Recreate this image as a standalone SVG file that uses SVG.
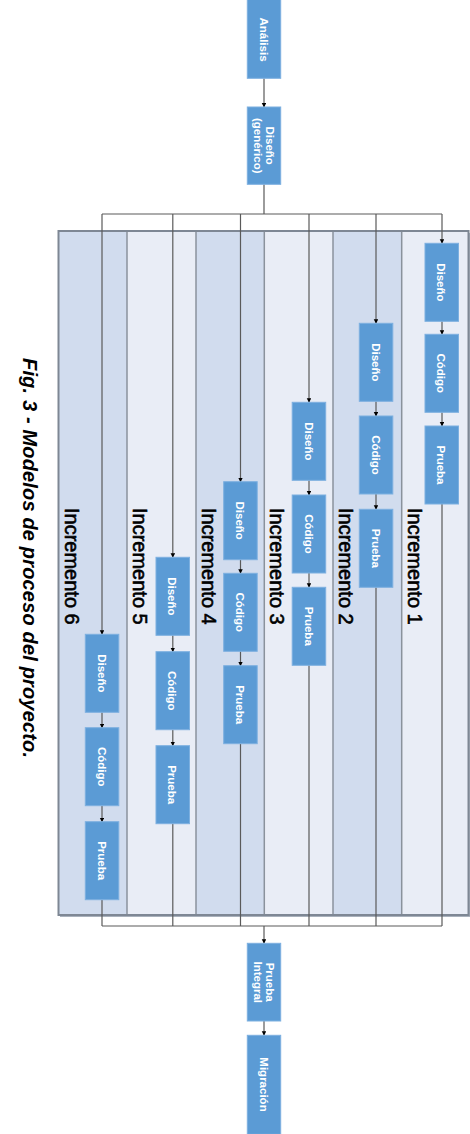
<svg xmlns="http://www.w3.org/2000/svg" width="470" height="1134" viewBox="0 0 470 1134">
<defs>
<style>
.box{fill:#5B9BD5;stroke:#7DB0E0;stroke-width:1}
.bt{font-family:"Liberation Sans",Arial,sans-serif;font-weight:bold;font-size:11.5px;fill:#FFFFFF;text-anchor:middle}
.lab{font-family:"Liberation Sans",Arial,sans-serif;font-size:20px;fill:#000000;stroke:#000000;stroke-width:0.6}
.cap{font-family:"Liberation Sans",Arial,sans-serif;font-size:20px;font-weight:bold;font-style:italic;fill:#000000}
.dark{fill:#D1DCEE}
.light{fill:#E9EDF6}
.div{stroke:#8A929C;stroke-width:1.5;fill:none}
.con{stroke:#5A5A5A;stroke-width:1.2;fill:none}
.arr{stroke:#5A5A5A;stroke-width:1.2;fill:none;marker-end:url(#ah)}
</style>
<marker id="ah" markerUnits="userSpaceOnUse" markerWidth="5" markerHeight="5" refX="4" refY="2.25" orient="auto">
<path d="M0,0 L4.5,2.25 L0,4.5 z" fill="#000000"/>
</marker>
</defs>
<rect width="470" height="1134" fill="#FFFFFF"/>

<g id="caption">
<text class="cap" transform="translate(23,358) rotate(90)" textLength="400" lengthAdjust="spacing">Fig. 3 - Modelos de proceso del proyecto.</text>
</g>

<g id="lanes">
<rect x="60" y="233" width="410" height="684" fill="#A9B1BC"/>
<rect class="dark" x="58.5" y="231" width="68.5" height="684"/>
<rect class="light" x="127" y="231" width="69" height="684"/>
<rect class="dark" x="196" y="231" width="68.3" height="684"/>
<rect class="light" x="264.3" y="231" width="68.7" height="684"/>
<rect class="dark" x="333" y="231" width="68.7" height="684"/>
<rect class="light" x="401.7" y="231" width="67" height="684"/>
<line class="div" x1="127" y1="231" x2="127" y2="915"/>
<line class="div" x1="196" y1="231" x2="196" y2="915"/>
<line class="div" x1="264.3" y1="231" x2="264.3" y2="915"/>
<line class="div" x1="333" y1="231" x2="333" y2="915"/>
<line class="div" x1="401.7" y1="231" x2="401.7" y2="915"/>
<rect x="58.5" y="231" width="410" height="684" fill="none" stroke="#7E8794" stroke-width="2"/>
</g>

<g id="labels">
<text class="lab" transform="translate(407.7,508) rotate(90)">Incremento 1</text>
<text class="lab" transform="translate(339.3,508) rotate(90)">Incremento 2</text>
<text class="lab" transform="translate(270,508) rotate(90)">Incremento 3</text>
<text class="lab" transform="translate(201.7,508) rotate(90)">Incremento 4</text>
<text class="lab" transform="translate(133,508) rotate(90)">Incremento 5</text>
<text class="lab" transform="translate(65,508) rotate(90)">Incremento 6</text>
</g>

<g id="connectors">
<line class="arr" x1="264" y1="78.3" x2="264" y2="107"/>
<path class="con" d="M264,184.3 V214 M102,214 H442"/>
<line class="arr" x1="442" y1="214" x2="442" y2="243.3"/>
<line class="arr" x1="376" y1="214" x2="376" y2="323.3"/>
<line class="arr" x1="309" y1="214" x2="309" y2="402.3"/>
<line class="arr" x1="240.5" y1="214" x2="240.5" y2="481.7"/>
<line class="arr" x1="172.8" y1="214" x2="172.8" y2="557.3"/>
<line class="arr" x1="102" y1="214" x2="102" y2="634.3"/>

<line class="arr" x1="442" y1="321.3" x2="442" y2="334.3"/>
<line class="arr" x1="442" y1="412.3" x2="442" y2="426"/>
<line class="arr" x1="376" y1="401.3" x2="376" y2="416"/>
<line class="arr" x1="376" y1="494" x2="376" y2="509.3"/>
<line class="arr" x1="309" y1="480.3" x2="309" y2="495"/>
<line class="arr" x1="309" y1="573" x2="309" y2="587.3"/>
<line class="arr" x1="240.5" y1="559.7" x2="240.5" y2="573.3"/>
<line class="arr" x1="240.5" y1="651.3" x2="240.5" y2="665.7"/>
<line class="arr" x1="172.8" y1="635.3" x2="172.8" y2="651.7"/>
<line class="arr" x1="172.8" y1="729.7" x2="172.8" y2="745.7"/>
<line class="arr" x1="102" y1="712.3" x2="102" y2="727.7"/>
<line class="arr" x1="102" y1="805.7" x2="102" y2="821.7"/>

<path class="con" d="M442,504 V926 M376,587.3 V926 M309,665.3 V926 M240.5,743.7 V926 M172.8,823.7 V926 M102,899.7 V926 M102,926 H442"/>
<line class="arr" x1="264" y1="926" x2="264" y2="943.3"/>
<line class="arr" x1="264" y1="1021" x2="264" y2="1035.3"/>
</g>

<g id="n-analisis">
<rect class="box" x="247.3" y="-1" width="33.4" height="79.3"/>
<text class="bt" transform="translate(264,39.5) rotate(90)" y="4.3">Análisis</text>
</g>
<g id="n-diseno-generico">
<rect class="box" x="247.3" y="107" width="33.4" height="77.3"/>
<text class="bt" transform="translate(264,145.7) rotate(90)"><tspan x="0" y="-1.8">Diseño</tspan><tspan x="0" y="10.2">(genérico)</tspan></text>
</g>

<g id="n-i1-diseno"><rect class="box" x="425" y="243.3" width="33.5" height="78"/><text class="bt" transform="translate(441.75,282.3) rotate(90)" y="4.3">Diseño</text></g>
<g id="n-i1-codigo"><rect class="box" x="425" y="334.3" width="33.5" height="78"/><text class="bt" transform="translate(441.75,373.3) rotate(90)" y="4.3">Código</text></g>
<g id="n-i1-prueba"><rect class="box" x="425" y="426" width="33.5" height="78"/><text class="bt" transform="translate(441.75,465) rotate(90)" y="4.3">Prueba</text></g>

<g id="n-i2-diseno"><rect class="box" x="359.3" y="323.3" width="33.5" height="78"/><text class="bt" transform="translate(376,362.3) rotate(90)" y="4.3">Diseño</text></g>
<g id="n-i2-codigo"><rect class="box" x="359.3" y="416" width="33.5" height="78"/><text class="bt" transform="translate(376,455) rotate(90)" y="4.3">Código</text></g>
<g id="n-i2-prueba"><rect class="box" x="359.3" y="509.3" width="33.5" height="78"/><text class="bt" transform="translate(376,548.3) rotate(90)" y="4.3">Prueba</text></g>

<g id="n-i3-diseno"><rect class="box" x="292.2" y="402.3" width="33.5" height="78"/><text class="bt" transform="translate(309,441.3) rotate(90)" y="4.3">Diseño</text></g>
<g id="n-i3-codigo"><rect class="box" x="292.2" y="495" width="33.5" height="78"/><text class="bt" transform="translate(309,534) rotate(90)" y="4.3">Código</text></g>
<g id="n-i3-prueba"><rect class="box" x="292.2" y="587.3" width="33.5" height="78"/><text class="bt" transform="translate(309,626.3) rotate(90)" y="4.3">Prueba</text></g>

<g id="n-i4-diseno"><rect class="box" x="223.7" y="481.7" width="33.5" height="78"/><text class="bt" transform="translate(240.5,520.7) rotate(90)" y="4.3">Diseño</text></g>
<g id="n-i4-codigo"><rect class="box" x="223.7" y="573.3" width="33.5" height="78"/><text class="bt" transform="translate(240.5,612.3) rotate(90)" y="4.3">Código</text></g>
<g id="n-i4-prueba"><rect class="box" x="223.7" y="665.7" width="33.5" height="78"/><text class="bt" transform="translate(240.5,704.7) rotate(90)" y="4.3">Prueba</text></g>

<g id="n-i5-diseno"><rect class="box" x="156" y="557.3" width="33.5" height="78"/><text class="bt" transform="translate(172.8,596.3) rotate(90)" y="4.3">Diseño</text></g>
<g id="n-i5-codigo"><rect class="box" x="156" y="651.7" width="33.5" height="78"/><text class="bt" transform="translate(172.8,690.7) rotate(90)" y="4.3">Código</text></g>
<g id="n-i5-prueba"><rect class="box" x="156" y="745.7" width="33.5" height="78"/><text class="bt" transform="translate(172.8,784.7) rotate(90)" y="4.3">Prueba</text></g>

<g id="n-i6-diseno"><rect class="box" x="85.3" y="634.3" width="33.5" height="78"/><text class="bt" transform="translate(102,673.3) rotate(90)" y="4.3">Diseño</text></g>
<g id="n-i6-codigo"><rect class="box" x="85.3" y="727.7" width="33.5" height="78"/><text class="bt" transform="translate(102,766.7) rotate(90)" y="4.3">Código</text></g>
<g id="n-i6-prueba"><rect class="box" x="85.3" y="821.7" width="33.5" height="78"/><text class="bt" transform="translate(102,860.7) rotate(90)" y="4.3">Prueba</text></g>

<g id="n-prueba-integral">
<rect class="box" x="247.3" y="943.3" width="33.4" height="77.7"/>
<text class="bt" transform="translate(264,982.2) rotate(90)"><tspan x="0" y="-1.8">Prueba</tspan><tspan x="0" y="10.2">Integral</tspan></text>
</g>
<g id="n-migracion">
<rect class="box" x="247.3" y="1035.3" width="33.4" height="99"/>
<text class="bt" transform="translate(264,1084.5) rotate(90)" y="4.3">Migración</text>
</g>
</svg>
